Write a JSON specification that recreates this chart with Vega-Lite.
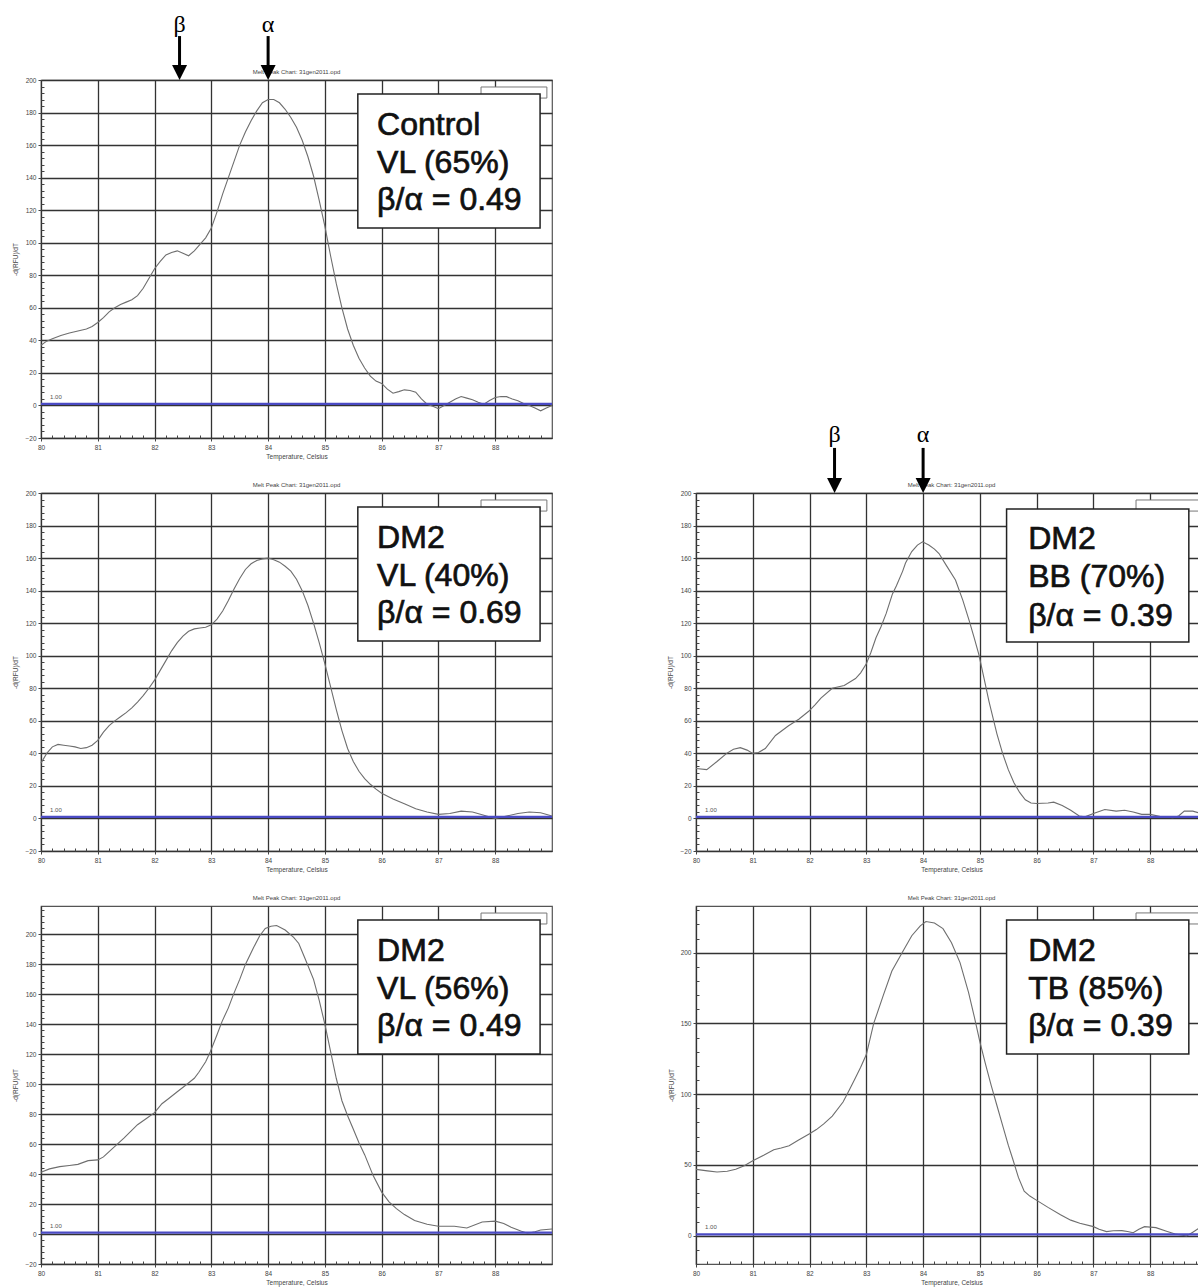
{
  "$schema": "https://vega.github.io/schema/vega-lite/v6.json",
  "padding": {"left": 12, "top": 12, "right": 0, "bottom": 0},
  "background": "white",
  "config": {
    "view": {"stroke": "#555555", "strokeWidth": 1.2},
    "font": "Liberation Sans",
    "axis": {"titleFont": "Liberation Sans", "titleFontSize": 6.5, "titleFontWeight": "normal", "titleColor": "#444444", "labelFont": "Liberation Sans", "labelFontSize": 6.5, "labelColor": "#444444", "labelOverlap": false, "labelFlush": false, "domain": false, "grid": true, "gridColor": "#333333", "gridWidth": 1.3, "tickColor": "#444444", "tickWidth": 1, "tickCount": 1000},
    "axisX": {"titlePadding": 3, "labelPadding": 3},
    "axisY": {"titlePadding": 6, "labelPadding": 2}
  },
  "datasets": {
    "c1": [{"t":80.0,"v":37},{"t":80.1,"v":39.5},{"t":80.2,"v":41},{"t":80.35,"v":43},{"t":80.5,"v":44.5},{"t":80.65,"v":45.8},{"t":80.8,"v":47},{"t":80.9,"v":48.5},{"t":81.0,"v":51},{"t":81.1,"v":54},{"t":81.2,"v":57.5},{"t":81.3,"v":60},{"t":81.4,"v":62},{"t":81.5,"v":63.5},{"t":81.6,"v":65},{"t":81.7,"v":67.5},{"t":81.8,"v":72},{"t":81.9,"v":78},{"t":82.0,"v":84},{"t":82.1,"v":88.5},{"t":82.2,"v":92.5},{"t":82.3,"v":94},{"t":82.4,"v":95},{"t":82.5,"v":93.5},{"t":82.6,"v":92},{"t":82.7,"v":95},{"t":82.8,"v":99},{"t":82.9,"v":103},{"t":83.0,"v":109},{"t":83.1,"v":119},{"t":83.2,"v":130},{"t":83.3,"v":140},{"t":83.4,"v":150},{"t":83.5,"v":160},{"t":83.6,"v":168},{"t":83.7,"v":175},{"t":83.8,"v":181},{"t":83.9,"v":186},{"t":84.0,"v":188},{"t":84.1,"v":188},{"t":84.2,"v":186},{"t":84.3,"v":182},{"t":84.4,"v":177},{"t":84.5,"v":171},{"t":84.6,"v":163},{"t":84.7,"v":153},{"t":84.8,"v":141},{"t":84.9,"v":126},{"t":85.0,"v":110},{"t":85.1,"v":92},{"t":85.2,"v":75},{"t":85.3,"v":60},{"t":85.4,"v":47},{"t":85.5,"v":37},{"t":85.6,"v":29},{"t":85.7,"v":23},{"t":85.8,"v":18},{"t":85.9,"v":15},{"t":86.0,"v":13.5},{"t":86.1,"v":10},{"t":86.2,"v":7.5},{"t":86.3,"v":8.5},{"t":86.4,"v":9.6},{"t":86.5,"v":9.2},{"t":86.6,"v":8.2},{"t":86.7,"v":4},{"t":86.8,"v":0.8},{"t":86.9,"v":-0.5},{"t":87.0,"v":-2},{"t":87.1,"v":0},{"t":87.2,"v":2},{"t":87.3,"v":4},{"t":87.4,"v":5.5},{"t":87.5,"v":4.5},{"t":87.6,"v":3.5},{"t":87.7,"v":2},{"t":87.8,"v":0.8},{"t":87.9,"v":3},{"t":88.0,"v":4.9},{"t":88.1,"v":5.5},{"t":88.2,"v":5.4},{"t":88.3,"v":4},{"t":88.4,"v":2.9},{"t":88.5,"v":1.2},{"t":88.6,"v":0},{"t":88.7,"v":-1.5},{"t":88.8,"v":-3.3},{"t":88.9,"v":-1.5},{"t":89.0,"v":0}],
    "c2": [{"t":80.0,"v":34},{"t":80.1,"v":40},{"t":80.2,"v":44},{"t":80.3,"v":45.5},{"t":80.4,"v":45},{"t":80.5,"v":44.5},{"t":80.6,"v":44},{"t":80.7,"v":43},{"t":80.8,"v":43.5},{"t":80.9,"v":45},{"t":81.0,"v":48},{"t":81.1,"v":53},{"t":81.2,"v":57},{"t":81.3,"v":60},{"t":81.4,"v":62.5},{"t":81.5,"v":65},{"t":81.6,"v":68},{"t":81.7,"v":71.5},{"t":81.8,"v":75.5},{"t":81.9,"v":80},{"t":82.0,"v":85},{"t":82.1,"v":91},{"t":82.2,"v":97},{"t":82.3,"v":103},{"t":82.4,"v":108},{"t":82.5,"v":112},{"t":82.6,"v":115},{"t":82.7,"v":116.5},{"t":82.8,"v":117},{"t":82.9,"v":117.5},{"t":83.0,"v":119},{"t":83.1,"v":122.5},{"t":83.2,"v":127.5},{"t":83.3,"v":134},{"t":83.4,"v":141},{"t":83.5,"v":147.5},{"t":83.6,"v":153},{"t":83.7,"v":156.5},{"t":83.8,"v":158.5},{"t":83.9,"v":159.5},{"t":84.0,"v":160},{"t":84.1,"v":159},{"t":84.2,"v":157.5},{"t":84.3,"v":155},{"t":84.4,"v":152},{"t":84.5,"v":147},{"t":84.6,"v":140},{"t":84.7,"v":131},{"t":84.8,"v":120},{"t":84.9,"v":108},{"t":85.0,"v":95},{"t":85.1,"v":81},{"t":85.2,"v":67},{"t":85.3,"v":54},{"t":85.4,"v":43},{"t":85.5,"v":35},{"t":85.6,"v":29},{"t":85.7,"v":24.5},{"t":85.8,"v":21},{"t":85.9,"v":18},{"t":86.0,"v":15.5},{"t":86.2,"v":12},{"t":86.4,"v":9},{"t":86.6,"v":6},{"t":86.8,"v":4},{"t":87.0,"v":2.5},{"t":87.2,"v":3},{"t":87.4,"v":4.5},{"t":87.6,"v":4},{"t":87.8,"v":2},{"t":88.0,"v":0},{"t":88.2,"v":1.5},{"t":88.4,"v":3},{"t":88.6,"v":4},{"t":88.8,"v":3.5},{"t":89.0,"v":1.5}],
    "c3": [{"t":80.0,"v":41.3},{"t":80.15,"v":43.5},{"t":80.33,"v":45},{"t":80.5,"v":45.8},{"t":80.65,"v":46.5},{"t":80.83,"v":49},{"t":81.0,"v":49.5},{"t":81.1,"v":51.5},{"t":81.2,"v":55},{"t":81.33,"v":59.5},{"t":81.46,"v":64},{"t":81.58,"v":68.5},{"t":81.7,"v":73},{"t":81.85,"v":77},{"t":82.0,"v":81},{"t":82.13,"v":87},{"t":82.25,"v":90.5},{"t":82.4,"v":95},{"t":82.57,"v":100},{"t":82.7,"v":104},{"t":82.78,"v":108},{"t":82.9,"v":115},{"t":82.98,"v":121.5},{"t":83.1,"v":133},{"t":83.19,"v":142},{"t":83.3,"v":151},{"t":83.39,"v":160},{"t":83.5,"v":170},{"t":83.6,"v":180},{"t":83.74,"v":191},{"t":83.85,"v":199},{"t":83.95,"v":204},{"t":84.05,"v":205.5},{"t":84.15,"v":206},{"t":84.3,"v":203},{"t":84.45,"v":198},{"t":84.54,"v":194},{"t":84.65,"v":184},{"t":84.8,"v":170},{"t":84.9,"v":156},{"t":85.0,"v":140},{"t":85.1,"v":122},{"t":85.2,"v":104},{"t":85.3,"v":89},{"t":85.4,"v":79},{"t":85.49,"v":71},{"t":85.6,"v":61},{"t":85.7,"v":53},{"t":85.85,"v":39},{"t":86.0,"v":28},{"t":86.13,"v":21.5},{"t":86.26,"v":17},{"t":86.4,"v":13},{"t":86.58,"v":9},{"t":86.8,"v":6.5},{"t":87.0,"v":5.2},{"t":87.28,"v":5.2},{"t":87.5,"v":4},{"t":87.77,"v":8},{"t":88.0,"v":8.6},{"t":88.15,"v":7},{"t":88.28,"v":4.5},{"t":88.45,"v":2},{"t":88.57,"v":0.5},{"t":88.7,"v":1.5},{"t":88.8,"v":2.7},{"t":89.0,"v":3.4}],
    "c4": [{"t":80.0,"v":30.7},{"t":80.19,"v":30},{"t":80.37,"v":35},{"t":80.54,"v":40},{"t":80.66,"v":42.5},{"t":80.78,"v":43.5},{"t":80.9,"v":42},{"t":81.0,"v":40},{"t":81.1,"v":40.5},{"t":81.22,"v":43},{"t":81.4,"v":51},{"t":81.63,"v":57},{"t":81.81,"v":61},{"t":81.99,"v":66},{"t":82.1,"v":70},{"t":82.2,"v":74},{"t":82.4,"v":80},{"t":82.61,"v":81.7},{"t":82.81,"v":86},{"t":82.9,"v":89.5},{"t":83.0,"v":95},{"t":83.08,"v":102},{"t":83.17,"v":111},{"t":83.26,"v":118},{"t":83.35,"v":126},{"t":83.46,"v":138},{"t":83.53,"v":143},{"t":83.64,"v":152},{"t":83.69,"v":157},{"t":83.8,"v":164},{"t":83.9,"v":168},{"t":83.99,"v":170},{"t":84.1,"v":168},{"t":84.2,"v":165.5},{"t":84.28,"v":162.8},{"t":84.4,"v":156},{"t":84.57,"v":146.5},{"t":84.7,"v":134},{"t":84.81,"v":121.7},{"t":84.9,"v":111},{"t":84.98,"v":101},{"t":85.08,"v":85},{"t":85.16,"v":72},{"t":85.3,"v":52},{"t":85.4,"v":40},{"t":85.5,"v":30},{"t":85.6,"v":22},{"t":85.7,"v":16},{"t":85.8,"v":11.5},{"t":85.9,"v":9.5},{"t":86.0,"v":9.2},{"t":86.2,"v":9.5},{"t":86.3,"v":10},{"t":86.45,"v":8},{"t":86.6,"v":5},{"t":86.75,"v":1.5},{"t":86.85,"v":1},{"t":87.0,"v":3},{"t":87.2,"v":5.5},{"t":87.4,"v":4.5},{"t":87.55,"v":5},{"t":87.7,"v":4},{"t":87.85,"v":2.5},{"t":88.0,"v":2.5},{"t":88.2,"v":1},{"t":88.4,"v":0.5},{"t":88.5,"v":1.5},{"t":88.6,"v":4.5},{"t":88.75,"v":4.5},{"t":88.9,"v":3},{"t":89.0,"v":2}],
    "c5": [{"t":80.0,"v":46.9},{"t":80.2,"v":45.8},{"t":80.37,"v":45},{"t":80.55,"v":45.5},{"t":80.7,"v":46.9},{"t":80.85,"v":49.5},{"t":81.0,"v":52.9},{"t":81.2,"v":57},{"t":81.37,"v":60.7},{"t":81.5,"v":62},{"t":81.64,"v":63.6},{"t":81.8,"v":67.5},{"t":82.0,"v":72},{"t":82.12,"v":75},{"t":82.25,"v":79},{"t":82.4,"v":84.5},{"t":82.59,"v":94.5},{"t":82.7,"v":103},{"t":82.8,"v":111},{"t":82.9,"v":119},{"t":83.0,"v":128},{"t":83.13,"v":150},{"t":83.3,"v":170},{"t":83.45,"v":187},{"t":83.63,"v":200},{"t":83.8,"v":212},{"t":83.95,"v":219},{"t":84.05,"v":222},{"t":84.2,"v":221},{"t":84.35,"v":217},{"t":84.5,"v":207},{"t":84.65,"v":193},{"t":84.8,"v":172},{"t":84.9,"v":155},{"t":85.0,"v":137},{"t":85.1,"v":121},{"t":85.2,"v":106},{"t":85.3,"v":92},{"t":85.4,"v":78},{"t":85.5,"v":64},{"t":85.58,"v":54},{"t":85.68,"v":41},{"t":85.78,"v":31.4},{"t":85.88,"v":28},{"t":85.98,"v":25.5},{"t":86.2,"v":20},{"t":86.42,"v":14.8},{"t":86.6,"v":11},{"t":86.76,"v":8.8},{"t":87.0,"v":6.4},{"t":87.1,"v":4.5},{"t":87.23,"v":2.9},{"t":87.35,"v":3.5},{"t":87.5,"v":3.6},{"t":87.6,"v":3},{"t":87.7,"v":2.1},{"t":87.8,"v":4.5},{"t":87.9,"v":6.4},{"t":88.1,"v":5.7},{"t":88.3,"v":3},{"t":88.44,"v":1.2},{"t":88.64,"v":-0.2},{"t":88.75,"v":2.5},{"t":88.84,"v":4.8},{"t":89.0,"v":4}]
  },
  "columns": 2,
  "spacing": {"row": 55, "column": 144},
  "bounds": "flush",
  "align": "all",
  "concat": [
    {
      "width": 511, "height": 358,
      "layer": [
        {"data": {"name": "c1"}, "mark": {"type": "line", "color": "#6e6e6e", "strokeWidth": 1.1},
         "encoding": {
           "x": {"field": "t", "type": "quantitative", "scale": {"domain": [80, 89], "nice": false, "zero": false},
                 "axis": {"title": "Temperature, Celsius", "tickCount": 1000, "values": [80,80.2,80.4,80.6,80.8,81,81.2,81.4,81.6,81.8,82,82.2,82.4,82.6,82.8,83,83.2,83.4,83.6,83.8,84,84.2,84.4,84.6,84.8,85,85.2,85.4,85.6,85.8,86,86.2,86.4,86.6,86.8,87,87.2,87.4,87.6,87.8,88,88.2,88.4,88.6,88.8],
                          "gridOpacity": {"condition": {"test": "abs(datum.value - round(datum.value)) < 0.01", "value": 1}, "value": 0},
                          "tickSize": {"condition": {"test": "abs(datum.value - round(datum.value)) < 0.01", "value": 3}, "value": -3},
                          "labelExpr": "abs(datum.value - round(datum.value)) < 0.01 ? format(datum.value, 'd') : ''"}},
           "y": {"field": "v", "type": "quantitative", "scale": {"domain": [-20, 200], "nice": false, "zero": false},
                 "axis": {"title": "-d(RFU)/dT", "tickCount": 1000, "values": [-20,-16,-12,-8,-4,0,4,8,12,16,20,24,28,32,36,40,44,48,52,56,60,64,68,72,76,80,84,88,92,96,100,104,108,112,116,120,124,128,132,136,140,144,148,152,156,160,164,168,172,176,180,184,188,192,196,200],
                          "gridOpacity": {"condition": {"test": "abs(datum.value % 20) < 0.01", "value": 1}, "value": 0},
                          "tickSize": {"condition": {"test": "abs(datum.value % 20) < 0.01", "value": 3}, "value": -3},
                          "labelExpr": "abs(datum.value % 20) < 0.01 ? format(datum.value, 'd') : ''"}}
         }},
        {"data": {"values": [{"v": 1}]}, "mark": {"type": "rule", "color": "#4b4bc4", "strokeWidth": 2.2}, "encoding": {"y": {"field": "v", "type": "quantitative"}}},
        {"data": {"values": [{"t": 80.16, "v": 5, "label": "1.00"}]}, "mark": {"type": "text", "align": "left", "baseline": "middle", "fontSize": 6, "color": "#555555"},
         "encoding": {"x": {"field": "t", "type": "quantitative"}, "y": {"field": "v", "type": "quantitative"}, "text": {"field": "label"}}},
        {"data": {"values": [{"t": 84.5, "v": 203.8, "label": "Melt Peak Chart: 31gen2011.opd"}]}, "mark": {"type": "text", "align": "center", "baseline": "alphabetic", "fontSize": 6, "color": "#444444"},
         "encoding": {"x": {"field": "t", "type": "quantitative"}, "y": {"field": "v", "type": "quantitative"}, "text": {"field": "label"}}},
        {"data": {"values": [{"t": 87.75, "t2": 88.91, "v": 195.7, "v2": 188.9}]}, "mark": {"type": "rect", "fill": "white", "stroke": "#777777", "strokeWidth": 1},
         "encoding": {"x": {"field": "t", "type": "quantitative"}, "x2": {"field": "t2"}, "y": {"field": "v", "type": "quantitative"}, "y2": {"field": "v2"}}},
        {"data": {"values": [{"t": 85.58, "t2": 88.79, "v": 191.4, "v2": 109.0}]}, "mark": {"type": "rect", "fill": "white", "stroke": "#222222", "strokeWidth": 1.5},
         "encoding": {"x": {"field": "t", "type": "quantitative"}, "x2": {"field": "t2"}, "y": {"field": "v", "type": "quantitative"}, "y2": {"field": "v2"}}},
        {"data": {"values": [{"t": 85.92, "v": 166.2, "label": "Control"}, {"t": 85.92, "v": 142.8, "label": "VL (65%)"}, {"t": 85.92, "v": 120.1, "label": "β/α = 0.49"}]},
         "mark": {"type": "text", "align": "left", "baseline": "alphabetic", "fontSize": 32, "font": "Liberation Sans", "color": "#111111", "stroke": "#111111", "strokeWidth": 0.7},
         "encoding": {"x": {"field": "t", "type": "quantitative"}, "y": {"field": "v", "type": "quantitative"}, "text": {"field": "label"}}},
        {"data": {"values": [{"t": 82.44, "top": 227, "bot": 208}, {"t": 84.0, "top": 227, "bot": 208}]}, "mark": {"type": "rule", "color": "black", "strokeWidth": 3},
         "encoding": {"x": {"field": "t", "type": "quantitative"}, "y": {"field": "top", "type": "quantitative"}, "y2": {"field": "bot"}}},
        {"data": {"values": [{"t": 82.44, "v": 204.6}, {"t": 84.0, "v": 204.6}]}, "mark": {"type": "point", "shape": "M-1,-1L1,-1L0,1Z", "filled": true, "size": 225, "color": "black", "opacity": 1},
         "encoding": {"x": {"field": "t", "type": "quantitative"}, "y": {"field": "v", "type": "quantitative"}}},
        {"data": {"values": [{"t": 82.44, "v": 234, "label": "β"}, {"t": 84.0, "v": 234, "label": "α"}]}, "mark": {"type": "text", "align": "center", "baseline": "middle", "fontSize": 24, "font": "Liberation Serif", "color": "black"},
         "encoding": {"x": {"field": "t", "type": "quantitative"}, "y": {"field": "v", "type": "quantitative"}, "text": {"field": "label"}}}
      ]
    },
    {
      "width": 511, "height": 358,
      "view": {"stroke": null},
      "data": {"values": []},
      "mark": "point",
      "encoding": {}
    },
    {
      "width": 511, "height": 358,
      "layer": [
        {"data": {"name": "c2"}, "mark": {"type": "line", "color": "#6e6e6e", "strokeWidth": 1.1},
         "encoding": {
           "x": {"field": "t", "type": "quantitative", "scale": {"domain": [80, 89], "nice": false, "zero": false},
                 "axis": {"title": "Temperature, Celsius", "tickCount": 1000, "values": [80,80.2,80.4,80.6,80.8,81,81.2,81.4,81.6,81.8,82,82.2,82.4,82.6,82.8,83,83.2,83.4,83.6,83.8,84,84.2,84.4,84.6,84.8,85,85.2,85.4,85.6,85.8,86,86.2,86.4,86.6,86.8,87,87.2,87.4,87.6,87.8,88,88.2,88.4,88.6,88.8],
                          "gridOpacity": {"condition": {"test": "abs(datum.value - round(datum.value)) < 0.01", "value": 1}, "value": 0},
                          "tickSize": {"condition": {"test": "abs(datum.value - round(datum.value)) < 0.01", "value": 3}, "value": -3},
                          "labelExpr": "abs(datum.value - round(datum.value)) < 0.01 ? format(datum.value, 'd') : ''"}},
           "y": {"field": "v", "type": "quantitative", "scale": {"domain": [-20, 200], "nice": false, "zero": false},
                 "axis": {"title": "-d(RFU)/dT", "tickCount": 1000, "values": [-20,-16,-12,-8,-4,0,4,8,12,16,20,24,28,32,36,40,44,48,52,56,60,64,68,72,76,80,84,88,92,96,100,104,108,112,116,120,124,128,132,136,140,144,148,152,156,160,164,168,172,176,180,184,188,192,196,200],
                          "gridOpacity": {"condition": {"test": "abs(datum.value % 20) < 0.01", "value": 1}, "value": 0},
                          "tickSize": {"condition": {"test": "abs(datum.value % 20) < 0.01", "value": 3}, "value": -3},
                          "labelExpr": "abs(datum.value % 20) < 0.01 ? format(datum.value, 'd') : ''"}}
         }},
        {"data": {"values": [{"v": 1}]}, "mark": {"type": "rule", "color": "#4b4bc4", "strokeWidth": 2.2}, "encoding": {"y": {"field": "v", "type": "quantitative"}}},
        {"data": {"values": [{"t": 80.16, "v": 5, "label": "1.00"}]}, "mark": {"type": "text", "align": "left", "baseline": "middle", "fontSize": 6, "color": "#555555"},
         "encoding": {"x": {"field": "t", "type": "quantitative"}, "y": {"field": "v", "type": "quantitative"}, "text": {"field": "label"}}},
        {"data": {"values": [{"t": 84.5, "v": 203.8, "label": "Melt Peak Chart: 31gen2011.opd"}]}, "mark": {"type": "text", "align": "center", "baseline": "alphabetic", "fontSize": 6, "color": "#444444"},
         "encoding": {"x": {"field": "t", "type": "quantitative"}, "y": {"field": "v", "type": "quantitative"}, "text": {"field": "label"}}},
        {"data": {"values": [{"t": 87.75, "t2": 88.91, "v": 195.7, "v2": 188.9}]}, "mark": {"type": "rect", "fill": "white", "stroke": "#777777", "strokeWidth": 1},
         "encoding": {"x": {"field": "t", "type": "quantitative"}, "x2": {"field": "t2"}, "y": {"field": "v", "type": "quantitative"}, "y2": {"field": "v2"}}},
        {"data": {"values": [{"t": 85.58, "t2": 88.79, "v": 191.4, "v2": 109.0}]}, "mark": {"type": "rect", "fill": "white", "stroke": "#222222", "strokeWidth": 1.5},
         "encoding": {"x": {"field": "t", "type": "quantitative"}, "x2": {"field": "t2"}, "y": {"field": "v", "type": "quantitative"}, "y2": {"field": "v2"}}},
        {"data": {"values": [{"t": 85.92, "v": 166.2, "label": "DM2"}, {"t": 85.92, "v": 142.8, "label": "VL (40%)"}, {"t": 85.92, "v": 120.1, "label": "β/α = 0.69"}]},
         "mark": {"type": "text", "align": "left", "baseline": "alphabetic", "fontSize": 32, "font": "Liberation Sans", "color": "#111111", "stroke": "#111111", "strokeWidth": 0.7},
         "encoding": {"x": {"field": "t", "type": "quantitative"}, "y": {"field": "v", "type": "quantitative"}, "text": {"field": "label"}}}
      ]
    },
    {
      "width": 511, "height": 358,
      "layer": [
        {"data": {"name": "c4"}, "mark": {"type": "line", "color": "#6e6e6e", "strokeWidth": 1.1},
         "encoding": {
           "x": {"field": "t", "type": "quantitative", "scale": {"domain": [80, 89], "nice": false, "zero": false},
                 "axis": {"title": "Temperature, Celsius", "tickCount": 1000, "values": [80,80.2,80.4,80.6,80.8,81,81.2,81.4,81.6,81.8,82,82.2,82.4,82.6,82.8,83,83.2,83.4,83.6,83.8,84,84.2,84.4,84.6,84.8,85,85.2,85.4,85.6,85.8,86,86.2,86.4,86.6,86.8,87,87.2,87.4,87.6,87.8,88,88.2,88.4,88.6,88.8],
                          "gridOpacity": {"condition": {"test": "abs(datum.value - round(datum.value)) < 0.01", "value": 1}, "value": 0},
                          "tickSize": {"condition": {"test": "abs(datum.value - round(datum.value)) < 0.01", "value": 3}, "value": -3},
                          "labelExpr": "abs(datum.value - round(datum.value)) < 0.01 ? format(datum.value, 'd') : ''"}},
           "y": {"field": "v", "type": "quantitative", "scale": {"domain": [-20, 200], "nice": false, "zero": false},
                 "axis": {"title": "-d(RFU)/dT", "tickCount": 1000, "values": [-20,-16,-12,-8,-4,0,4,8,12,16,20,24,28,32,36,40,44,48,52,56,60,64,68,72,76,80,84,88,92,96,100,104,108,112,116,120,124,128,132,136,140,144,148,152,156,160,164,168,172,176,180,184,188,192,196,200],
                          "gridOpacity": {"condition": {"test": "abs(datum.value % 20) < 0.01", "value": 1}, "value": 0},
                          "tickSize": {"condition": {"test": "abs(datum.value % 20) < 0.01", "value": 3}, "value": -3},
                          "labelExpr": "abs(datum.value % 20) < 0.01 ? format(datum.value, 'd') : ''"}}
         }},
        {"data": {"values": [{"v": 1}]}, "mark": {"type": "rule", "color": "#4b4bc4", "strokeWidth": 2.2}, "encoding": {"y": {"field": "v", "type": "quantitative"}}},
        {"data": {"values": [{"t": 80.16, "v": 5, "label": "1.00"}]}, "mark": {"type": "text", "align": "left", "baseline": "middle", "fontSize": 6, "color": "#555555"},
         "encoding": {"x": {"field": "t", "type": "quantitative"}, "y": {"field": "v", "type": "quantitative"}, "text": {"field": "label"}}},
        {"data": {"values": [{"t": 84.5, "v": 203.8, "label": "Melt Peak Chart: 31gen2011.opd"}]}, "mark": {"type": "text", "align": "center", "baseline": "alphabetic", "fontSize": 6, "color": "#444444"},
         "encoding": {"x": {"field": "t", "type": "quantitative"}, "y": {"field": "v", "type": "quantitative"}, "text": {"field": "label"}}},
        {"data": {"values": [{"t": 87.75, "t2": 89.0, "v": 195.7, "v2": 188.9}]}, "mark": {"type": "rect", "fill": "white", "stroke": "#777777", "strokeWidth": 1},
         "encoding": {"x": {"field": "t", "type": "quantitative"}, "x2": {"field": "t2"}, "y": {"field": "v", "type": "quantitative"}, "y2": {"field": "v2"}}},
        {"data": {"values": [{"t": 85.47, "t2": 88.68, "v": 190.1, "v2": 108.4}]}, "mark": {"type": "rect", "fill": "white", "stroke": "#222222", "strokeWidth": 1.5},
         "encoding": {"x": {"field": "t", "type": "quantitative"}, "x2": {"field": "t2"}, "y": {"field": "v", "type": "quantitative"}, "y2": {"field": "v2"}}},
        {"data": {"values": [{"t": 85.85, "v": 165.6, "label": "DM2"}, {"t": 85.85, "v": 142.2, "label": "BB (70%)"}, {"t": 85.85, "v": 118.2, "label": "β/α = 0.39"}]},
         "mark": {"type": "text", "align": "left", "baseline": "alphabetic", "fontSize": 32, "font": "Liberation Sans", "color": "#111111", "stroke": "#111111", "strokeWidth": 0.7},
         "encoding": {"x": {"field": "t", "type": "quantitative"}, "y": {"field": "v", "type": "quantitative"}, "text": {"field": "label"}}},
        {"data": {"values": [{"t": 82.44, "top": 227.7, "bot": 208}, {"t": 84.0, "top": 227.7, "bot": 208}]}, "mark": {"type": "rule", "color": "black", "strokeWidth": 3},
         "encoding": {"x": {"field": "t", "type": "quantitative"}, "y": {"field": "top", "type": "quantitative"}, "y2": {"field": "bot"}}},
        {"data": {"values": [{"t": 82.44, "v": 204.6}, {"t": 84.0, "v": 204.6}]}, "mark": {"type": "point", "shape": "M-1,-1L1,-1L0,1Z", "filled": true, "size": 225, "color": "black", "opacity": 1},
         "encoding": {"x": {"field": "t", "type": "quantitative"}, "y": {"field": "v", "type": "quantitative"}}},
        {"data": {"values": [{"t": 82.44, "v": 235.6, "label": "β"}, {"t": 84.0, "v": 235.6, "label": "α"}]}, "mark": {"type": "text", "align": "center", "baseline": "middle", "fontSize": 24, "font": "Liberation Serif", "color": "black"},
         "encoding": {"x": {"field": "t", "type": "quantitative"}, "y": {"field": "v", "type": "quantitative"}, "text": {"field": "label"}}}
      ]
    },
    {
      "width": 511, "height": 358,
      "layer": [
        {"data": {"name": "c3"}, "mark": {"type": "line", "color": "#6e6e6e", "strokeWidth": 1.1},
         "encoding": {
           "x": {"field": "t", "type": "quantitative", "scale": {"domain": [80, 89], "nice": false, "zero": false},
                 "axis": {"title": "Temperature, Celsius", "tickCount": 1000, "values": [80,80.2,80.4,80.6,80.8,81,81.2,81.4,81.6,81.8,82,82.2,82.4,82.6,82.8,83,83.2,83.4,83.6,83.8,84,84.2,84.4,84.6,84.8,85,85.2,85.4,85.6,85.8,86,86.2,86.4,86.6,86.8,87,87.2,87.4,87.6,87.8,88,88.2,88.4,88.6,88.8],
                          "gridOpacity": {"condition": {"test": "abs(datum.value - round(datum.value)) < 0.01", "value": 1}, "value": 0},
                          "tickSize": {"condition": {"test": "abs(datum.value - round(datum.value)) < 0.01", "value": 3}, "value": -3},
                          "labelExpr": "abs(datum.value - round(datum.value)) < 0.01 ? format(datum.value, 'd') : ''"}},
           "y": {"field": "v", "type": "quantitative", "scale": {"domain": [-20, 219], "nice": false, "zero": false},
                 "axis": {"title": "-d(RFU)/dT", "tickCount": 1000, "values": [-20,-16,-12,-8,-4,0,4,8,12,16,20,24,28,32,36,40,44,48,52,56,60,64,68,72,76,80,84,88,92,96,100,104,108,112,116,120,124,128,132,136,140,144,148,152,156,160,164,168,172,176,180,184,188,192,196,200,204,208,212,216],
                          "gridOpacity": {"condition": {"test": "abs(datum.value % 20) < 0.01", "value": 1}, "value": 0},
                          "tickSize": {"condition": {"test": "abs(datum.value % 20) < 0.01", "value": 3}, "value": -3},
                          "labelExpr": "abs(datum.value % 20) < 0.01 ? format(datum.value, 'd') : ''"}}
         }},
        {"data": {"values": [{"v": 1}]}, "mark": {"type": "rule", "color": "#4b4bc4", "strokeWidth": 2.2}, "encoding": {"y": {"field": "v", "type": "quantitative"}}},
        {"data": {"values": [{"t": 80.16, "v": 5.5, "label": "1.00"}]}, "mark": {"type": "text", "align": "left", "baseline": "middle", "fontSize": 6, "color": "#555555"},
         "encoding": {"x": {"field": "t", "type": "quantitative"}, "y": {"field": "v", "type": "quantitative"}, "text": {"field": "label"}}},
        {"data": {"values": [{"t": 84.5, "v": 223.1, "label": "Melt Peak Chart: 31gen2011.opd"}]}, "mark": {"type": "text", "align": "center", "baseline": "alphabetic", "fontSize": 6, "color": "#444444"},
         "encoding": {"x": {"field": "t", "type": "quantitative"}, "y": {"field": "v", "type": "quantitative"}, "text": {"field": "label"}}},
        {"data": {"values": [{"t": 87.75, "t2": 88.91, "v": 214.3, "v2": 207.0}]}, "mark": {"type": "rect", "fill": "white", "stroke": "#777777", "strokeWidth": 1},
         "encoding": {"x": {"field": "t", "type": "quantitative"}, "x2": {"field": "t2"}, "y": {"field": "v", "type": "quantitative"}, "y2": {"field": "v2"}}},
        {"data": {"values": [{"t": 85.58, "t2": 88.79, "v": 209.7, "v2": 120.2}]}, "mark": {"type": "rect", "fill": "white", "stroke": "#222222", "strokeWidth": 1.5},
         "encoding": {"x": {"field": "t", "type": "quantitative"}, "x2": {"field": "t2"}, "y": {"field": "v", "type": "quantitative"}, "y2": {"field": "v2"}}},
        {"data": {"values": [{"t": 85.92, "v": 182.3, "label": "DM2"}, {"t": 85.92, "v": 156.9, "label": "VL (56%)"}, {"t": 85.92, "v": 132.2, "label": "β/α = 0.49"}]},
         "mark": {"type": "text", "align": "left", "baseline": "alphabetic", "fontSize": 32, "font": "Liberation Sans", "color": "#111111", "stroke": "#111111", "strokeWidth": 0.7},
         "encoding": {"x": {"field": "t", "type": "quantitative"}, "y": {"field": "v", "type": "quantitative"}, "text": {"field": "label"}}}
      ]
    },
    {
      "width": 511, "height": 358,
      "layer": [
        {"data": {"name": "c5"}, "mark": {"type": "line", "color": "#6e6e6e", "strokeWidth": 1.1},
         "encoding": {
           "x": {"field": "t", "type": "quantitative", "scale": {"domain": [80, 89], "nice": false, "zero": false},
                 "axis": {"title": "Temperature, Celsius", "tickCount": 1000, "values": [80,80.2,80.4,80.6,80.8,81,81.2,81.4,81.6,81.8,82,82.2,82.4,82.6,82.8,83,83.2,83.4,83.6,83.8,84,84.2,84.4,84.6,84.8,85,85.2,85.4,85.6,85.8,86,86.2,86.4,86.6,86.8,87,87.2,87.4,87.6,87.8,88,88.2,88.4,88.6,88.8],
                          "gridOpacity": {"condition": {"test": "abs(datum.value - round(datum.value)) < 0.01", "value": 1}, "value": 0},
                          "tickSize": {"condition": {"test": "abs(datum.value - round(datum.value)) < 0.01", "value": 3}, "value": -3},
                          "labelExpr": "abs(datum.value - round(datum.value)) < 0.01 ? format(datum.value, 'd') : ''"}},
           "y": {"field": "v", "type": "quantitative", "scale": {"domain": [-20, 233], "nice": false, "zero": false},
                 "axis": {"title": "-d(RFU)/dT", "tickCount": 1000, "values": [-20,-10,0,10,20,30,40,50,60,70,80,90,100,110,120,130,140,150,160,170,180,190,200,210,220,230],
                          "gridOpacity": {"condition": {"test": "abs(datum.value % 50) < 0.01", "value": 1}, "value": 0},
                          "tickSize": {"condition": {"test": "abs(datum.value % 50) < 0.01", "value": 3}, "value": -3},
                          "labelExpr": "abs(datum.value % 50) < 0.01 ? format(datum.value, 'd') : ''"}}
         }},
        {"data": {"values": [{"v": 1}]}, "mark": {"type": "rule", "color": "#4b4bc4", "strokeWidth": 2.2}, "encoding": {"y": {"field": "v", "type": "quantitative"}}},
        {"data": {"values": [{"t": 80.16, "v": 6, "label": "1.00"}]}, "mark": {"type": "text", "align": "left", "baseline": "middle", "fontSize": 6, "color": "#555555"},
         "encoding": {"x": {"field": "t", "type": "quantitative"}, "y": {"field": "v", "type": "quantitative"}, "text": {"field": "label"}}},
        {"data": {"values": [{"t": 84.5, "v": 237.2, "label": "Melt Peak Chart: 31gen2011.opd"}]}, "mark": {"type": "text", "align": "center", "baseline": "alphabetic", "fontSize": 6, "color": "#444444"},
         "encoding": {"x": {"field": "t", "type": "quantitative"}, "y": {"field": "v", "type": "quantitative"}, "text": {"field": "label"}}},
        {"data": {"values": [{"t": 87.75, "t2": 89.0, "v": 228.1, "v2": 220.3}]}, "mark": {"type": "rect", "fill": "white", "stroke": "#777777", "strokeWidth": 1},
         "encoding": {"x": {"field": "t", "type": "quantitative"}, "x2": {"field": "t2"}, "y": {"field": "v", "type": "quantitative"}, "y2": {"field": "v2"}}},
        {"data": {"values": [{"t": 85.47, "t2": 88.68, "v": 223.1, "v2": 128.4}]}, "mark": {"type": "rect", "fill": "white", "stroke": "#222222", "strokeWidth": 1.5},
         "encoding": {"x": {"field": "t", "type": "quantitative"}, "x2": {"field": "t2"}, "y": {"field": "v", "type": "quantitative"}, "y2": {"field": "v2"}}},
        {"data": {"values": [{"t": 85.85, "v": 194.1, "label": "DM2"}, {"t": 85.85, "v": 167.3, "label": "TB (85%)"}, {"t": 85.85, "v": 141.1, "label": "β/α = 0.39"}]},
         "mark": {"type": "text", "align": "left", "baseline": "alphabetic", "fontSize": 32, "font": "Liberation Sans", "color": "#111111", "stroke": "#111111", "strokeWidth": 0.7},
         "encoding": {"x": {"field": "t", "type": "quantitative"}, "y": {"field": "v", "type": "quantitative"}, "text": {"field": "label"}}}
      ]
    }
  ]
}
